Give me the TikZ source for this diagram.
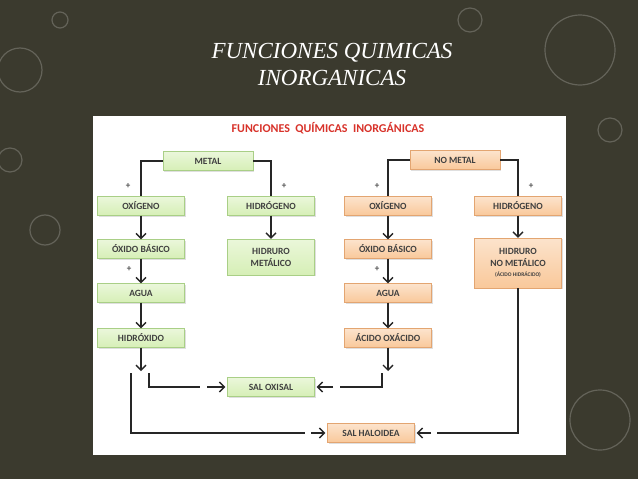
\documentclass[tikz,border=0pt]{standalone}
\usepackage{fontspec}
\setmainfont{Carlito}
\newfontfamily\titlefont{Liberation Serif}
\usetikzlibrary{arrows.meta,shadows}
\definecolor{bgc}{HTML}{3B3A2E}
\definecolor{gfill}{HTML}{D6EFB6}
\definecolor{gdraw}{HTML}{A9CF86}
\definecolor{ofill}{HTML}{F9C89A}
\definecolor{odraw}{HTML}{E3A571}
\definecolor{tred}{HTML}{D8322A}
\tikzset{
 gbox/.style={draw=gdraw,top color=gfill!50!white,bottom color=gfill,minimum width=87pt,minimum height=19pt,font=\bfseries\fontsize{9.5}{12}\selectfont,text=black!75,align=center,inner sep=1pt,drop shadow={opacity=0.25,shadow xshift=1pt,shadow yshift=-1pt}},
 obox/.style={gbox,draw=odraw,top color=ofill!50!white,bottom color=ofill},
 con/.style={line width=1.3pt,black!85},
 arr/.style={con,-{Straight Barb[length=5pt,width=10pt,line width=1.3pt]}},
 plus/.style={font=\bfseries\fontsize{9}{10}\selectfont,text=black!70},
 ring/.style={draw=white!60!bgc,line width=1.2pt,opacity=0.35}
}
\begin{document}
\begin{tikzpicture}[x=1pt,y=-1pt]
\fill[bgc] (0,0) rectangle (638,479);
\useasboundingbox (0,0) rectangle (638,479);
\draw[ring] (20,70) circle (22);
\draw[ring] (10,160) circle (12);
\draw[ring] (45,230) circle (15);
\draw[ring] (580,50) circle (35);
\draw[ring] (470,20) circle (12);
\draw[ring] (610,130) circle (12);
\draw[ring] (600,420) circle (30);
\draw[ring] (60,20) circle (8);
\node[text=white,font=\titlefont\itshape\fontsize{23}{27}\selectfont,align=center] (title) at (332,64) {FUNCIONES QUIMICAS\\INORGANICAS};
\fill[white] (93,116) rectangle (566,455);
\node[text=tred,font=\bfseries\fontsize{12}{14}\selectfont] (sub) at (328,128) {FUNCIONES\ \ QUÍMICAS\ \ INORGÁNICAS};
% left
\node[gbox,minimum width=90pt] (metal) at (208,161) {METAL};
\node[gbox] (ox1) at (141,206) {OXÍGENO};
\node[gbox] (hid1) at (271,206) {HIDRÓGENO};
\node[gbox] (oxb1) at (141,249) {ÓXIDO BÁSICO};
\node[gbox,minimum height=36pt] (hm) at (271,257) {HIDRURO\\METÁLICO};
\node[gbox] (agua1) at (141,293) {AGUA};
\node[gbox] (hidrox) at (141,338) {HIDRÓXIDO};
\node[gbox] (oxisal) at (271,387) {SAL OXISAL};
\node[obox] (haloidea) at (371,433) {SAL HALOIDEA};
% right
\node[obox,minimum width=90pt] (nometal) at (455,160) {NO METAL};
\node[obox] (ox2) at (388,206) {OXÍGENO};
\node[obox] (hid2) at (518,206) {HIDRÓGENO};
\node[obox] (oxb2) at (388,249) {ÓXIDO BÁSICO};
\node[obox,minimum height=50pt] (hnm) at (518,263) {HIDRURO\\NO METÁLICO\\[-2pt]{\fontsize{5.5}{6}\selectfont(ÁCIDO HIDRÁCIDO)}};
\node[obox] (agua2) at (388,293) {AGUA};
\node[obox] (acido) at (388,338) {ÁCIDO OXÁCIDO};
% coords
\coordinate (h1) at (141,371);
\coordinate (h2) at (388,371);
\coordinate (a1) at (200,387); \coordinate (a2) at (340,387);
\coordinate (b1) at (305,433); \coordinate (b2) at (437,433);
% connectors
\draw[con] (metal.west) -| (ox1.north);
\draw[con] (metal.east) -| (hid1.north);
\draw[con] (nometal.west) -| (ox2.north);
\draw[con] (nometal.east) -| (hid2.north);
\node[plus] (p1) at (128,186) {+};
\node[plus] (p2) at (284,186) {+};
\node[plus] (p3) at (377,186) {+};
\node[plus] (p4) at (531,186) {+};
\node[plus] (p5) at (129,269) {+};
\node[plus] (p6) at (377,269) {+};
\draw[arr] (ox1) -- (oxb1);
\draw[arr] (hid1) -- (hm);
\draw[arr] (oxb1) -- (agua1);
\draw[arr] (agua1) -- (hidrox);
\draw[arr] (hidrox) -- (h1);
\draw[arr] (ox2) -- (oxb2);
\draw[arr] (hid2) -- (hnm);
\draw[arr] (oxb2) -- (agua2);
\draw[arr] (agua2) -- (acido);
\draw[arr] (acido) -- (h2);
\draw[con] (149,373) |- (a1);
\draw[arr] ([xshift=7pt]a1) -- ([xshift=-2pt]oxisal.west);
\draw[con] (131,373) |- (b1);
\draw[arr] ([xshift=6pt]b1) -- ([xshift=-2pt]haloidea.west);
\draw[con] (382,373) |- (a2);
\draw[arr] ([xshift=-7pt]a2) -- ([xshift=2pt]oxisal.east);
\draw[con] (hnm.south) |- (b2);
\draw[arr] ([xshift=-6pt]b2) -- ([xshift=2pt]haloidea.east);
\end{tikzpicture}
\end{document}
